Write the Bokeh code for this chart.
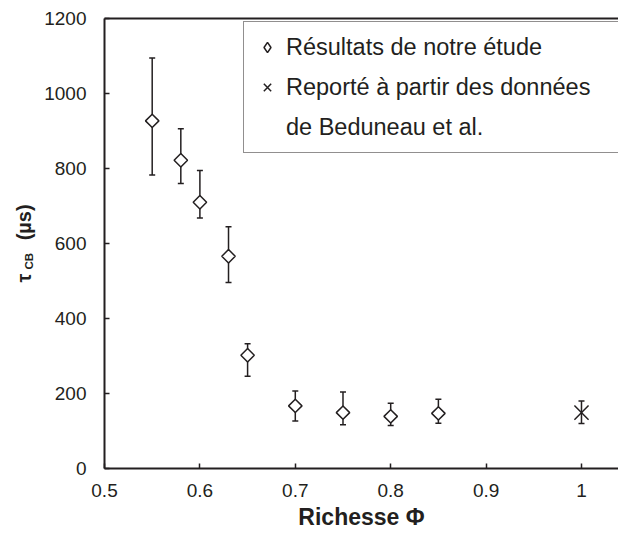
import math
from bokeh.plotting import figure
from bokeh.models import (ColumnDataSource, Whisker, Legend, LegendItem, LinearAxis,
                          FixedTicker, Label, TeeHead, Range1d)
from bokeh.embed import file_html
from bokeh.resources import INLINE

# ---------------- data ----------------
phi = [0.55, 0.58, 0.60, 0.63, 0.65, 0.70, 0.75, 0.80, 0.85]
tau = [927, 822, 710, 566, 302, 167, 149, 139, 147]
tau_upper = [1095, 906, 795, 645, 333, 207, 204, 174, 185]
tau_lower = [783, 760, 668, 496, 246, 127, 117, 115, 121]

phi_bed = [1.0]
tau_bed = [149]
tau_bed_upper = [180]
tau_bed_lower = [120]

x_ticks = [0.5, 0.6, 0.7, 0.8, 0.9, 1]
x_tick_labels = ["0.5", "0.6", "0.7", "0.8", "0.9", "1"]
y_ticks = [0, 200, 400, 600, 800, 1000, 1200]

legend_labels = ["Résultats de notre étude",
                 "Reporté à partir des données",
                 "de Beduneau et al."]
x_title = "Richesse Φ"
y_title_main = "τ"
y_title_sub = "CB"
y_title_unit = "(µs)"

INK = "#231f20"
FONT = "Liberation Sans"
X0, X1 = 0.5, 1.0388
Y0, Y1 = 0, 1200

# ---------------- figure ----------------
p = figure(width=618, height=536, output_backend="svg", toolbar_location=None,
           x_range=Range1d(X0, X1), y_range=Range1d(Y0, Y1),
           min_border_left=104, min_border_right=0, min_border_top=18,
           min_border_bottom=68)
p.grid.visible = False
p.outline_line_color = None
p.background_fill_color = "white"
p.border_fill_color = "white"

for ax in (p.xaxis[0], p.yaxis[0]):
    ax.axis_line_color = INK
    ax.axis_line_width = 2
    ax.major_tick_in = 5
    ax.major_tick_out = 0
    ax.major_tick_line_color = INK
    ax.major_tick_line_width = 1.5
    ax.minor_tick_line_color = None
    ax.major_label_text_font = FONT
    ax.major_label_text_font_size = "19px"
    ax.major_label_text_color = INK
    ax.axis_label_text_font = FONT
    ax.axis_label_text_font_style = "bold"
    ax.axis_label_text_color = INK

p.xaxis.ticker = FixedTicker(ticks=x_ticks)
p.xaxis.major_label_overrides = dict(zip(x_ticks, x_tick_labels))
p.xaxis.major_label_standoff = 15
p.xaxis.axis_label = x_title
p.xaxis.axis_label_text_font_size = "23px"
p.xaxis.axis_label_standoff = 4

p.yaxis.ticker = FixedTicker(ticks=y_ticks)
p.yaxis.major_label_standoff = 18
# main part of the y title; the gap leaves room for the "CB" subscript label
p.yaxis.axis_label = y_title_main + "\u00a0" * 6 + y_title_unit
p.yaxis.axis_label_text_font_size = "20px"
p.yaxis.axis_label_standoff = 6

top_axis = LinearAxis(ticker=FixedTicker(ticks=[]), axis_line_color=INK, axis_line_width=2,
                      major_tick_in=0, major_tick_out=0, minor_tick_line_color=None,
                      major_label_text_font_size="0px", major_label_standoff=0)
p.add_layout(top_axis, "above")

# ---------------- data marks ----------------
src = ColumnDataSource(dict(phi=phi, tau=tau, upper=tau_upper, lower=tau_lower))
src_bed = ColumnDataSource(dict(phi=phi_bed, tau=tau_bed, upper=tau_bed_upper, lower=tau_bed_lower))

for s in (src, src_bed):
    p.add_layout(Whisker(source=s, base="phi", upper="upper", lower="lower",
                         line_color=INK, line_width=1.5,
                         upper_head=TeeHead(size=6, line_color=INK, line_width=1.5),
                         lower_head=TeeHead(size=6, line_color=INK, line_width=1.5)))

r1 = p.scatter("phi", "tau", source=src, marker="square", angle=math.pi / 4, size=9.5,
               fill_color="white", line_color=INK, line_width=1.5)
r2 = p.scatter("phi", "tau", source=src_bed, marker="x", size=20,
               line_color=INK, line_width=1.5)
# legend-only renderers (placeholder NaN point, nothing drawn in the plot)
nan_src = ColumnDataSource(dict(x=[float("nan")], y=[float("nan")]))
leg_diamond = p.scatter("x", "y", source=nan_src, marker="diamond", size=10,
                        fill_color="white", line_color=INK, line_width=1.5)
leg_blank = p.scatter("x", "y", source=nan_src, marker="x", size=1,
                      line_alpha=0, fill_alpha=0)

legend = Legend(items=[LegendItem(label=legend_labels[0], renderers=[leg_diamond]),
                       LegendItem(label=legend_labels[1], renderers=[r2]),
                       LegendItem(label=legend_labels[2], renderers=[leg_blank])],
                location=(139, 315), label_text_font=FONT, label_text_font_size="23.5px",
                label_text_color=INK, border_line_color=INK, border_line_width=1.5,
                background_fill_color="white", background_fill_alpha=1,
                glyph_width=26, glyph_height=26, label_height=30, spacing=10,
                padding=10, label_standoff=6, label_width=400, margin=0)
p.add_layout(legend, "center")

# ---------------- "CB" subscript of the y title ----------------
PX_PER_X = 514.0 / (X1 - X0)
PX_PER_Y = 450.0 / (Y1 - Y0)

def xd(px):
    return X0 - (104 - px) / PX_PER_X

def yd(py):
    return (468 - py) / PX_PER_Y

p.add_layout(Label(x=xd(28.5), y=yd(269), text=y_title_sub, angle=math.pi / 2,
                   text_font=FONT, text_font_size="11.5px", text_font_style="bold",
                   text_color=INK, text_align="left", text_baseline="middle"), "above")

open("out.html", "w").write(file_html(p, INLINE))
